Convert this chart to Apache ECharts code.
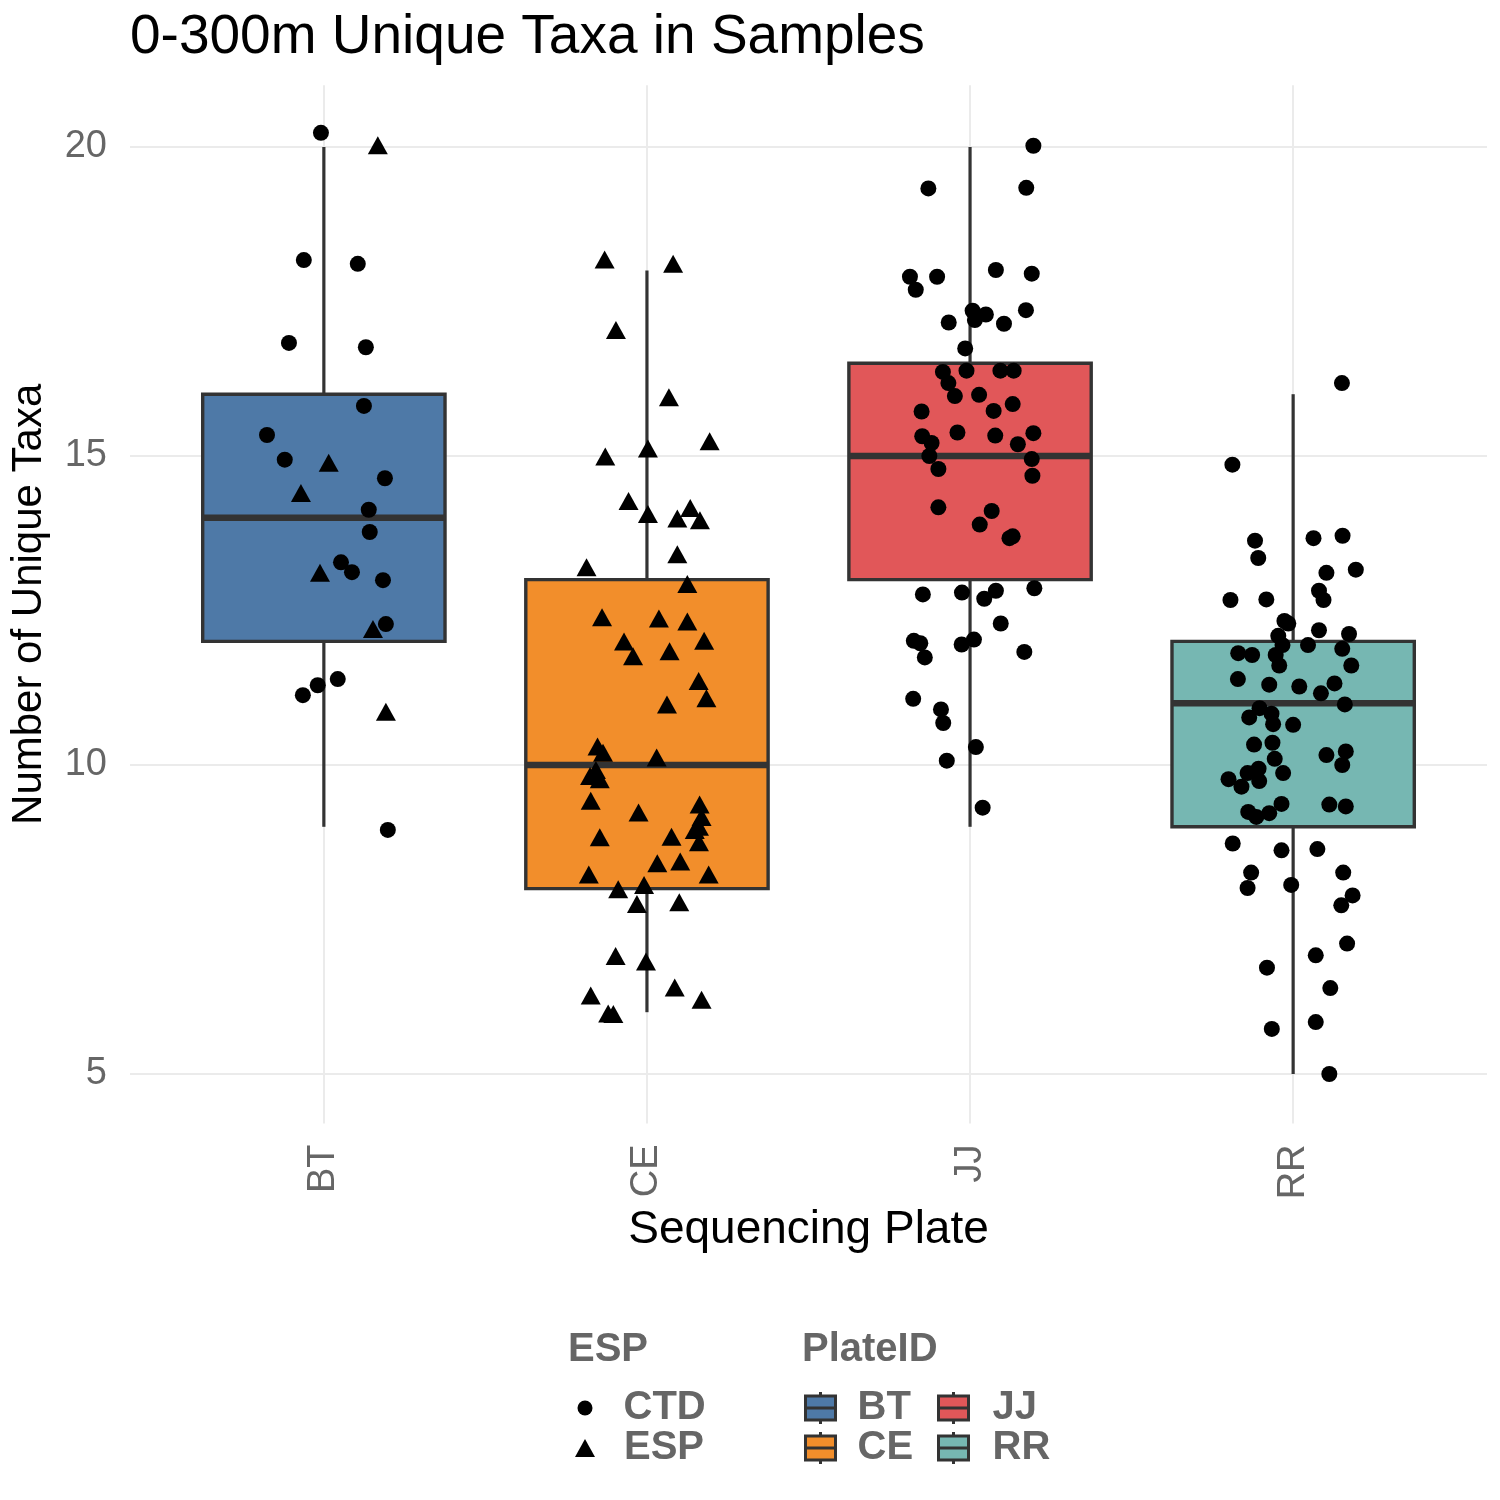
<!DOCTYPE html>
<html><head><meta charset="utf-8">
<script src="https://cdn.jsdelivr.net/npm/echarts@6/dist/echarts.min.js"></script>
<style>html,body{margin:0;padding:0;background:#fff}#c{width:1500px;height:1500px}</style>
</head><body><div id="c"></div>
<script>
// ---- data ----
const plates = ['BT', 'CE', 'JJ', 'RR'];
const plateColors = ['#4E79A7', '#F28E2B', '#E15759', '#76B7B2'];
const yTicks = [5, 10, 15, 20];
// box statistics: [lower whisker, Q1, median, Q3, upper whisker]
const boxBT = [9, 12, 14, 16, 20];
const boxCE = [6, 8, 10, 13, 18];
const boxJJ = [9, 13, 15, 16.5, 20];
const boxRR = [5, 9, 11, 12, 16];
// jittered samples: [horizontal jitter from plate centre, number of unique taxa]
const btCTD = [[-0.009,20.23],[-0.062,18.17],[0.105,18.11],[-0.108,16.83],[0.130,16.76],[0.124,15.81],[-0.176,15.34],[-0.121,14.94],[0.189,14.64],[0.139,14.13],[0.142,13.77],[0.053,13.28],[0.087,13.12],[0.183,12.99],[0.192,12.28],[-0.065,11.13],[-0.019,11.29],[0.043,11.39],[0.198,8.95]];
const btESP = [[0.167,20.03],[0.015,14.89],[-0.071,14.40],[-0.012,13.11],[0.152,12.20],[0.192,10.86]];
const ceESP = [[-0.131,18.18],[0.081,18.11],[-0.096,17.04],[0.068,15.95],[0.194,15.24],[-0.129,14.99],[0.003,15.12],[-0.057,14.27],[0.003,14.06],[0.134,14.16],[0.094,13.99],[0.164,13.96],[0.094,13.41],[-0.187,13.20],[0.125,12.93],[-0.139,12.39],[0.037,12.37],[0.125,12.32],[-0.071,12.00],[-0.043,11.76],[0.177,12.01],[0.070,11.84],[0.160,11.36],[0.184,11.08],[0.062,10.98],[-0.153,10.30],[-0.136,10.20],[0.030,10.12],[-0.176,9.82],[-0.146,9.77],[-0.158,9.92],[-0.174,9.42],[-0.026,9.23],[0.163,9.36],[0.169,9.16],[0.161,9.00],[0.148,8.95],[0.161,8.75],[-0.146,8.83],[0.076,8.84],[0.032,8.41],[0.103,8.44],[-0.180,8.23],[0.191,8.23],[-0.089,7.99],[-0.009,8.06],[-0.031,7.75],[0.100,7.78],[-0.097,6.91],[-0.003,6.82],[-0.174,6.27],[0.086,6.40],[0.169,6.20],[-0.120,5.98],[-0.104,5.97]];
const jjCTD = [[0.196,20.02],[-0.129,19.33],[0.174,19.34],[-0.186,17.90],[-0.102,17.90],[-0.168,17.69],[0.080,18.01],[0.191,17.95],[0.008,17.35],[0.049,17.29],[0.015,17.20],[0.173,17.36],[-0.066,17.16],[0.105,17.14],[-0.015,16.74],[-0.084,16.36],[-0.011,16.38],[0.094,16.38],[0.135,16.38],[-0.067,16.18],[-0.047,15.97],[0.028,15.99],[-0.150,15.72],[0.073,15.73],[0.132,15.84],[-0.148,15.32],[-0.039,15.38],[0.078,15.33],[0.196,15.37],[-0.119,15.21],[0.148,15.19],[-0.126,15.00],[-0.098,14.79],[0.191,14.95],[0.193,14.68],[-0.098,14.17],[0.067,14.11],[0.030,13.89],[0.122,13.67],[0.132,13.70],[-0.146,12.76],[-0.025,12.79],[0.044,12.69],[0.080,12.82],[0.199,12.86],[0.095,12.29],[-0.174,12.01],[-0.154,11.97],[-0.140,11.74],[-0.026,11.95],[0.012,12.03],[0.168,11.83],[-0.176,11.07],[-0.090,10.90],[-0.083,10.68],[0.018,10.29],[-0.072,10.07],[0.039,9.31]];
const rrCTD = [[0.151,16.18],[-0.188,14.86],[-0.118,13.63],[-0.108,13.35],[0.063,13.67],[0.153,13.71],[0.103,13.11],[0.194,13.16],[-0.194,12.67],[-0.083,12.68],[0.080,12.82],[0.094,12.67],[-0.027,12.33],[-0.015,12.29],[-0.046,12.09],[-0.033,11.94],[0.080,12.18],[0.173,12.12],[0.046,11.94],[0.152,11.88],[-0.170,11.81],[-0.127,11.78],[-0.054,11.78],[-0.043,11.61],[0.180,11.61],[-0.171,11.39],[-0.074,11.30],[0.019,11.27],[0.128,11.32],[0.086,11.16],[0.160,10.98],[-0.104,10.92],[-0.136,10.77],[-0.067,10.83],[-0.062,10.66],[0.000,10.65],[-0.121,10.33],[-0.064,10.36],[-0.057,10.10],[0.103,10.16],[0.163,10.22],[0.152,10.00],[-0.107,9.94],[-0.141,9.87],[-0.031,9.87],[-0.200,9.77],[-0.160,9.65],[-0.105,9.74],[-0.139,9.24],[-0.114,9.16],[-0.074,9.22],[-0.036,9.37],[0.112,9.36],[0.163,9.33],[-0.187,8.73],[-0.036,8.62],[0.075,8.64],[-0.130,8.26],[-0.141,8.01],[-0.006,8.06],[0.155,8.26],[0.184,7.89],[0.149,7.73],[0.167,7.11],[0.070,6.92],[-0.081,6.72],[0.115,6.39],[-0.066,5.73],[0.070,5.84],[0.112,5.00]];

// ---- build ----
const FONT = '"Liberation Sans", Arial, Helvetica, sans-serif';
const boxes = [boxBT, boxCE, boxJJ, boxRR];
const toXY = (pts, plateIdx) => pts.map(p => [plateIdx + 1 + p[0], p[1]]);
const ctdData = [].concat(toXY(btCTD, 0), toXY(jjCTD, 2), toXY(rrCTD, 3));
const espData = [].concat(toXY(btESP, 0), toXY(ceESP, 1));

const BOX_HALF = 0.375;
function renderBox(params, api) {
  const x = api.value(0);
  const lo = api.value(1), q1 = api.value(2), med = api.value(3), q3 = api.value(4), hi = api.value(5);
  const tl = api.coord([x - BOX_HALF, q3]);
  const br = api.coord([x + BOX_HALF, q1]);
  const mL = api.coord([x - BOX_HALF, med]);
  const mR = api.coord([x + BOX_HALF, med]);
  const pHi = api.coord([x, hi]), pQ3 = api.coord([x, q3]);
  const pQ1 = api.coord([x, q1]), pLo = api.coord([x, lo]);
  const color = api.visual('color');
  return {
    type: 'group',
    children: [
      { type: 'line', shape: { x1: pHi[0], y1: pHi[1], x2: pQ3[0], y2: pQ3[1] }, style: { stroke: '#333333', lineWidth: 3.2 } },
      { type: 'line', shape: { x1: pQ1[0], y1: pQ1[1], x2: pLo[0], y2: pLo[1] }, style: { stroke: '#333333', lineWidth: 3.2 } },
      { type: 'rect', shape: { x: tl[0], y: tl[1], width: br[0] - tl[0], height: br[1] - tl[1] }, style: { fill: color, stroke: '#333333', lineWidth: 3.4 } },
      { type: 'line', shape: { x1: mL[0], y1: mL[1], x2: mR[0], y2: mR[1] }, style: { stroke: '#333333', lineWidth: 6.6 } }
    ]
  };
}

const boxSeries = plates.map((p, i) => ({
  name: p,
  type: 'custom',
  renderItem: renderBox,
  color: plateColors[i],
  itemStyle: { color: plateColors[i] },
  encode: { x: 0, y: [1, 2, 3, 4, 5] },
  data: [[i + 1].concat(boxes[i])],
  z: 2,
  silent: true
}));

const boxIcon = 'path://M15 0L15 4M0 4H30V16H0ZM0 16H30V28H0ZM15 28L15 32';
const legendText = { fontFamily: FONT, fontSize: 40, fontWeight: 'bold', color: '#666666' };
const withPad = (p) => Object.assign({ padding: [0, 0, 0, p] }, legendText);

const option = {
  backgroundColor: '#ffffff',
  animation: false,
  title: [
    { text: '0-300m Unique Taxa in Samples', left: 130, top: 10, padding: 0,
      textStyle: { fontFamily: FONT, fontSize: 55, fontWeight: 'normal', color: '#000000' } },
    { text: 'ESP', left: 568, top: 1330, padding: 0, textStyle: legendText },
    { text: 'PlateID', left: 802, top: 1330, padding: 0, textStyle: legendText }
  ],
  grid: { left: 130, top: 85.2, width: 1357, height: 1038.24, containLabel: false, outerBoundsMode: 'none' },
  xAxis: {
    type: 'value', min: 0.4, max: 4.6,
    name: 'Sequencing Plate', nameLocation: 'middle', nameGap: 82,
    nameTextStyle: { fontFamily: FONT, fontSize: 46, color: '#000000' },
    axisLine: { show: false }, axisTick: { show: false, customValues: [1, 2, 3, 4] },
    axisLabel: { customValues: [1, 2, 3, 4], rotate: 90, margin: 21,
      formatter: v => plates[Math.round(v) - 1] || '',
      fontFamily: FONT, fontSize: 38, color: '#666666' },
    splitLine: { show: true, lineStyle: { color: '#EBEBEB', width: 2 } }
  },
  yAxis: {
    type: 'value', min: 4.2, max: 21,
    name: 'Number of Unique Taxa', nameLocation: 'middle', nameGap: 80, nameRotate: 90,
    nameTextStyle: { fontFamily: FONT, fontSize: 42, color: '#000000' },
    axisLine: { show: false }, axisTick: { show: false, customValues: yTicks },
    axisLabel: { customValues: yTicks, margin: 23, fontFamily: FONT, fontSize: 38, color: '#666666' },
    splitLine: { show: true, lineStyle: { color: '#EBEBEB', width: 2 } }
  },
  legend: [
    { data: ['CTD'], orient: 'vertical', left: 577.5, top: 1388, padding: 0, itemWidth: 15, itemHeight: 15, itemGap: 0,
      selectedMode: false, itemStyle: { borderWidth: 0 }, textStyle: withPad(26) },
    { data: ['ESP'], orient: 'vertical', left: 575, top: 1428, padding: 0, itemWidth: 20, itemHeight: 18, itemGap: 0,
      selectedMode: false, itemStyle: { borderWidth: 0 }, textStyle: withPad(24) },
    { data: [{ name: 'BT', icon: boxIcon }, { name: 'CE', icon: boxIcon }], orient: 'vertical', left: 804, top: 1388, padding: 0,
      itemWidth: 30, itemHeight: 32, itemGap: 0, selectedMode: false,
      itemStyle: { borderColor: '#333333', borderWidth: 3 }, textStyle: withPad(17) },
    { data: [{ name: 'JJ', icon: boxIcon }, { name: 'RR', icon: boxIcon }], orient: 'vertical', left: 937, top: 1388, padding: 0,
      itemWidth: 30, itemHeight: 32, itemGap: 0, selectedMode: false,
      itemStyle: { borderColor: '#333333', borderWidth: 3 }, textStyle: withPad(19) }
  ],
  series: boxSeries.concat([
    { name: 'CTD', type: 'scatter', symbol: 'circle', symbolSize: 16, data: ctdData,
      itemStyle: { color: '#000000', opacity: 1 }, z: 5, silent: true },
    { name: 'ESP', type: 'scatter', symbol: 'triangle', symbolSize: [20, 18], data: espData,
      itemStyle: { color: '#000000', opacity: 1 }, z: 5, silent: true }
  ])
};

const chart = echarts.init(document.getElementById('c'), null, { renderer: 'canvas' });
chart.setOption(option);
</script>
</body></html>
